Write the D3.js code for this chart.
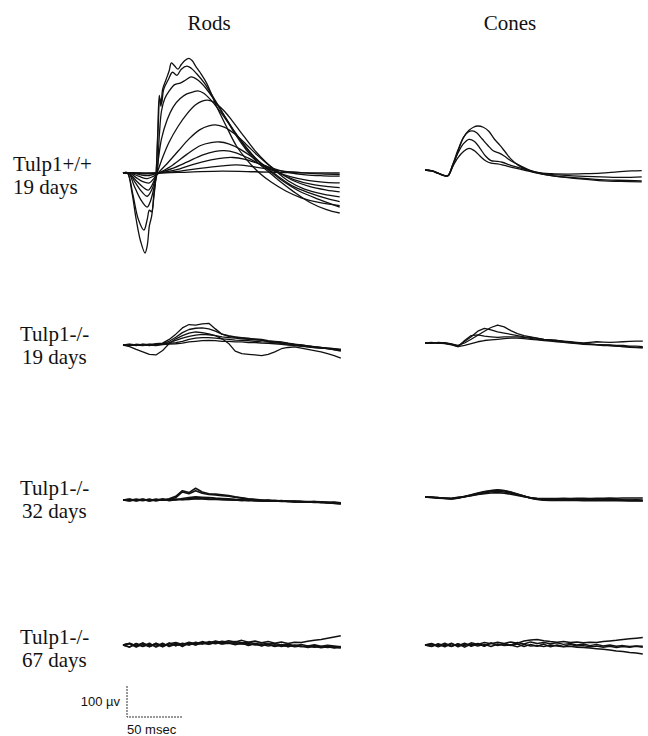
<!DOCTYPE html>
<html>
<head>
<meta charset="utf-8">
<script src="https://cdn.jsdelivr.net/npm/d3@7"></script>
<style>
    body { margin: 0; background: #fff; }
    #viz_div text { font-family: "Liberation Serif", "Times New Roman", serif; fill: #111; }
    #viz_div text.sb { font-family: "Liberation Sans", Arial, sans-serif; }
</style>
</head>
<body>
<div id="viz_div"></div>
<script>
// DATA (time in msec, amplitude in microvolts)
// ---------------------------------------------------------------------------------------------------------------------------------
const columns = ["Rods", "Cones"];
const rowLabels = [["Tulp1+/+", "19 days"], ["Tulp1-/-", "19 days"], ["Tulp1-/-", "32 days"], ["Tulp1-/-", "67 days"]];
const scaleBarV = 100;
const scaleBarT = 50;

// wild type rods, one [t, v] list per flash intensity
const rodsWT = [
    [[0,0],[4,0],[8,-60],[12,-150],[16,-220],[20,-258],[22,-235],[24,-170],[26,-140],[28,-80],[30,-10],[31.5,120],[33,250],[34.5,215],[36,270],[39,300],[42,330],[44,355],[47,345],[50,335],[53,350],[56,362],[60,370],[63,362],[66,345],[70,325],[76,290],[85,215],[94,150],[103,88],[112,45],[124,0],[135,-30],[148,-58],[162,-80],[178,-95],[197,-105]],
    [[0,0],[4,0],[9,-70],[14,-150],[19,-184],[22,-150],[24,-120],[26,-125],[28,-70],[30,-5],[32,150],[33.5,240],[35,225],[37,270],[41,300],[45,325],[49,315],[53,335],[58,345],[62,338],[67,320],[74,290],[82,245],[92,185],[102,125],[112,75],[122,35],[132,5],[142,-25],[155,-60],[170,-95],[185,-118],[197,-129]],
    [[0,0],[5,0],[10,-40],[16,-85],[22,-110],[25,-90],[28,-50],[31,0],[33,120],[35,200],[38,240],[42,265],[47,285],[52,290],[57,300],[62,310],[68,300],[75,275],[84,230],[94,175],[104,120],[114,72],[124,35],[134,5],[145,-25],[160,-58],[178,-85],[197,-110]],
    [[0,0],[5,0],[11,-30],[17,-60],[22,-75],[26,-55],[30,-10],[32,40],[35,110],[40,170],[46,215],[52,240],[58,255],[64,262],[68,265],[73,258],[80,235],[90,190],[100,140],[110,92],[120,50],[130,18],[140,-8],[153,-40],[170,-65],[185,-82],[197,-92]],
    [[0,0],[5,0],[12,-25],[18,-45],[23,-55],[27,-35],[31,0],[36,50],[42,100],[50,150],[58,190],[66,220],[72,232],[77,235],[83,228],[92,200],[100,165],[110,118],[120,72],[130,35],[140,3],[150,-25],[165,-52],[182,-68],[197,-77]],
    [[0,0],[6,0],[12,-15],[18,-28],[24,-32],[28,-18],[32,0],[40,30],[50,70],[60,110],[70,140],[78,152],[84,155],[92,148],[102,125],[112,92],[122,58],[132,27],[142,2],[155,-25],[170,-44],[185,-55],[197,-61]],
    [[0,0],[6,0],[14,-10],[22,-18],[28,-10],[33,0],[45,25],[58,60],[70,88],[80,98],[88,100],[96,94],[106,78],[118,50],[130,22],[142,0],[156,-22],[172,-37],[187,-44],[197,-47]],
    [[0,0],[8,0],[16,-6],[24,-8],[32,0],[45,15],[58,35],[72,58],[84,70],[92,72],[102,66],[114,48],[126,25],[138,5],[152,-12],[168,-24],[184,-30],[197,-32]],
    [[0,0],[10,0],[20,-3],[32,0],[48,10],[64,28],[80,42],[92,49],[100,50],[110,45],[122,32],[136,15],[150,2],[166,-6],[182,-9],[197,-10]],
    [[0,0],[15,0],[30,0],[50,5],[70,15],[90,23],[103,26],[115,22],[130,14],[145,6],[160,2],[180,-3],[197,-5]],
    [[0,0],[30,0],[60,3],[90,6],[120,4],[150,1],[197,0]]
];

// wild type cones
const conesWT = [
    [[0,0],[6,-3],[12,-10],[18,-18],[21,-17],[25,10],[30,60],[35,105],[40,128],[44,138],[48,142],[53,138],[58,125],[63,100],[68,80],[73,58],[78,36],[85,15],[92,2],[102,-8],[115,-12],[130,-13],[145,-12],[160,-10],[175,-6],[188,-3],[197,-2]],
    [[0,0],[6,-3],[12,-11],[18,-19],[21,-18],[25,15],[30,65],[35,105],[39,122],[43,126],[47,120],[52,100],[57,80],[62,62],[67,55],[72,45],[78,30],[86,15],[95,0],[105,-10],[120,-16],[140,-20],[160,-22],[180,-24],[197,-22]],
    [[0,0],[6,-2],[12,-10],[18,-18],[21,-18],[25,15],[30,55],[35,85],[40,99],[45,92],[50,70],[55,45],[60,30],[65,28],[70,25],[78,15],[88,5],[100,-8],[115,-18],[135,-25],[155,-30],[175,-33],[197,-35]],
    [[0,0],[6,-3],[12,-11],[18,-19],[21,-19],[25,10],[30,40],[35,60],[40,70],[45,62],[50,45],[55,30],[60,22],[66,20],[72,15],[80,8],[90,0],[102,-10],[118,-20],[138,-28],[158,-34],[178,-37],[197,-38]]
];

// knockout recordings are sampled on one time grid
const gridT = [0,6,12,18,24,30,36,42,48,54,60,66,72,78,84,90,96,102,108,114,120,126,132,138,144,150,156,162,168,174,180,186,192,198];

const rodsKO19 = [
    [0,2,-2,3,0,4,6,18,35,55,66,64,68,70,52,35,30,26,24,22,18,16,12,10,6,4,0,-2,-6,-8,-10,-12,-15,-14],
    [0,-2,2,0,3,1,5,12,25,40,50,54,55,52,45,35,28,25,22,20,20,18,14,12,10,6,3,0,-3,-6,-8,-10,-12,-16],
    [0,-5,-14,-22,-30,-32,-18,5,20,30,38,42,40,36,30,20,5,-20,-28,-30,-32,-34,-30,-22,-12,-8,-6,-10,-14,-18,-22,-28,-34,-42],
    [0,3,0,-2,2,0,4,8,15,22,28,32,34,33,30,26,24,22,20,18,17,15,12,10,8,5,2,0,-3,-5,-8,-10,-12,-14],
    [0,-1,2,1,-2,3,2,5,8,12,18,22,24,24,22,20,18,16,15,14,12,10,9,7,5,3,0,-2,-4,-6,-9,-12,-16,-20],
    [0,1,-1,2,0,-2,1,3,4,6,10,12,14,15,14,12,12,10,10,8,8,6,5,4,2,0,-2,-4,-6,-8,-10,-12,-14,-18]
];

const conesKO19 = [
    [0,2,-1,1,-3,-8,0,12,25,38,50,58,52,40,30,24,20,16,12,10,8,6,4,2,0,2,4,3,2,3,4,5,6,6],
    [0,-1,2,0,-4,-10,5,20,38,47,42,36,32,28,24,20,18,15,12,10,8,5,3,0,-2,-4,-5,-6,-6,-8,-8,-10,-10,-12],
    [0,1,0,-2,-6,-12,8,24,26,22,20,18,20,20,20,18,15,12,10,8,6,4,2,0,-2,-3,-5,-6,-8,-10,-12,-14,-15,-16],
    [0,0,1,-1,-4,-12,-8,-2,4,8,10,12,14,16,16,14,12,10,8,6,4,2,0,-2,-4,-5,-6,-8,-8,-10,-12,-12,-14,-15]
];

const rodsKO32 = [
    [0,3,-2,2,-3,1,-1,4,12,30,24,38,26,20,19,17,14,10,7,4,2,0,-2,-1,-3,-4,-3,-5,-6,-5,-8,-9,-8,-11],
    [0,-2,3,-1,2,-3,2,1,8,26,20,30,22,18,16,14,12,9,6,3,1,-1,0,-3,-2,-5,-4,-6,-5,-7,-6,-9,-10,-12],
    [0,2,-3,1,-2,3,-1,2,0,5,8,10,9,8,6,5,4,2,1,0,-1,-3,-2,-4,-3,-5,-6,-5,-7,-6,-8,-7,-9,-10],
    [0,-3,1,-2,2,-1,3,-2,1,2,4,5,6,4,3,2,1,0,-2,-1,-3,-2,-4,-3,-5,-4,-6,-7,-6,-8,-7,-9,-11,-13],
    [0,1,-1,3,-2,0,2,-1,3,1,2,4,3,2,2,1,0,-1,0,-2,-1,-3,-2,-3,-4,-3,-5,-4,-6,-5,-6,-8,-7,-9]
];

const conesKO32 = [
    [0,-1,-3,-4,-6,-3,2,6,11,16,20,22,20,15,9,3,-3,-7,-9,-10,-10,-9,-10,-9,-9,-10,-10,-9,-10,-10,-11,-10,-11,-12],
    [0,-2,-2,-5,-5,-2,1,5,9,13,17,18,16,12,7,2,-3,-6,-8,-9,-8,-9,-8,-8,-9,-8,-9,-9,-8,-9,-9,-10,-9,-10],
    [0,0,-2,-3,-4,-1,1,4,8,11,13,14,12,9,5,1,-2,-4,-5,-5,-5,-4,-5,-4,-4,-5,-4,-4,-3,-4,-3,-3,-3,-3],
    [0,-1,-4,-5,-6,-4,1,7,13,18,21,23,21,16,10,3,-4,-8,-10,-11,-11,-10,-11,-11,-12,-11,-12,-12,-11,-12,-12,-13,-13,-13]
];

const rodsKO67 = [
    [0,6,-4,7,-3,5,-6,4,8,2,9,4,11,6,13,8,14,10,15,9,13,7,11,6,10,5,9,8,12,15,18,22,26,30],
    [0,-6,5,-4,6,-7,3,-2,6,-5,7,0,8,2,9,3,7,1,6,-2,5,-3,3,-5,2,-6,0,-4,-5,-2,-7,-3,-8,-5],
    [0,4,-7,2,-5,6,-3,5,-2,4,0,6,3,8,4,9,6,7,3,5,0,2,-3,1,-5,-1,-6,-3,-8,-4,-9,-6,-10,-8],
    [0,-7,4,-5,2,-4,6,-5,3,-2,5,1,6,3,7,4,6,3,5,1,3,-2,2,-4,0,-5,-2,-6,-3,-7,-5,-8,-6,-10],
    [0,5,-2,6,-6,3,-5,7,-3,6,1,9,4,11,7,12,9,11,7,9,5,7,3,5,0,3,-2,2,-3,1,-4,-1,-3,-6]
];

const conesKO67 = [
    [0,5,-3,6,-4,3,-2,7,2,8,4,9,5,10,6,13,16,18,14,11,9,11,8,10,7,9,8,11,13,15,18,20,22,24],
    [0,-5,4,-3,6,-6,3,-2,5,-4,6,0,4,-2,3,-5,2,-4,3,-6,0,-5,2,-3,-2,-6,-3,-7,-4,-8,-5,-7,-4,-7],
    [0,3,-6,2,-5,4,-7,3,-3,2,-5,3,-2,0,-6,2,-3,-2,-5,0,-3,-6,-4,-7,-8,-10,-12,-14,-16,-19,-21,-24,-26,-29],
    [0,-3,2,-6,4,-2,6,-4,3,-3,7,-2,4,0,8,3,10,5,8,4,7,2,5,0,3,-2,2,-3,0,-4,-2,-5,-3,-4]
];

// LAYOUT
// ---------------------------------------------------------------------------------------------------------------------------------
const W = 648, H = 736;
const colX = [123, 425];                 // left edge of each trace column
const colTitleX = [209, 510];
const baseY = [[173, 170], [345, 343], [500, 497], [645, 645]];
const labelX = [13, 20, 20, 20];
const labelY = [171, 341, 495, 644];
const strokeW = [1.3, 1.3, 1.6, 1.5];
const pxPerMs = 1.1, pxPerUv = 0.31;

function onGrid(list) {
    return list.map(vs => vs.map((v, i) => [gridT[i], v]));
}

const panels = [
    [rodsWT, conesWT],
    [onGrid(rodsKO19), onGrid(conesKO19)],
    [onGrid(rodsKO32), onGrid(conesKO32)],
    [onGrid(rodsKO67), onGrid(conesKO67)]
];

const svg = d3.select("#viz_div")
    .append("svg")
    .attr("width", W)
    .attr("height", H);

// COLUMN TITLES AND ROW LABELS
// ---------------------------------------------------------------------------------------------------------------------------------
svg.selectAll("text.col")
    .data(columns)
    .enter()
    .append("text")
    .attr("class", "col")
    .attr("x", (d, i) => colTitleX[i])
    .attr("y", 30)
    .attr("text-anchor", "middle")
    .style("font-size", "21px")
    .text(d => d);

rowLabels.forEach(function (lab, r) {
    svg.append("text")
        .attr("x", labelX[r])
        .attr("y", labelY[r])
        .style("font-size", "21px")
        .text(lab[0]);
    svg.append("text")
        .attr("x", labelX[r] + (r == 0 ? 0 : 2))
        .attr("y", labelY[r] + 23)
        .style("font-size", "21px")
        .text(lab[1]);
});

// TRACES
// ---------------------------------------------------------------------------------------------------------------------------------
panels.forEach(function (row, r) {
    row.forEach(function (traces, c) {
        const x = d3.scaleLinear([0, 200], [colX[c], colX[c] + 200 * pxPerMs]);
        const y = d3.scaleLinear([-100, 100], [baseY[r][c] + 100 * pxPerUv, baseY[r][c] - 100 * pxPerUv]);
        const line = d3.line()
            .x(d => x(d[0]))
            .y(d => y(d[1]))
            .curve(r == 0 ? d3.curveCatmullRom.alpha(0.5) : d3.curveLinear);

        svg.append("g")
            .selectAll("path")
            .data(traces)
            .enter()
            .append("path")
            .attr("fill", "none")
            .attr("stroke", "#111")
            .attr("stroke-width", strokeW[r])
            .attr("stroke-linejoin", "round")
            .attr("d", line);
    });
});

// SCALE BAR
// ---------------------------------------------------------------------------------------------------------------------------------
const sbX = d3.scaleLinear([0, scaleBarT], [127, 127 + scaleBarT * pxPerMs]);
const sbY = d3.scaleLinear([0, scaleBarV], [717, 717 - scaleBarV * pxPerUv]);

svg.append("path")
    .attr("fill", "none")
    .attr("stroke", "#333")
    .attr("stroke-width", 1)
    .attr("stroke-dasharray", "2,1")
    .attr("d", `M${sbX(0)},${sbY(scaleBarV)}V${sbY(0)}H${sbX(scaleBarT)}`);

svg.append("text")
    .attr("class", "sb")
    .attr("x", sbX(0) - 7)
    .attr("y", sbY(scaleBarV / 2) + 4)
    .attr("text-anchor", "end")
    .style("font-size", "13px")
    .text(scaleBarV + " \u00b5v");

svg.append("text")
    .attr("class", "sb")
    .attr("x", sbX(0))
    .attr("y", sbY(0) + 17)
    .style("font-size", "13px")
    .text(scaleBarT + " msec");
</script>
</body>
</html>
